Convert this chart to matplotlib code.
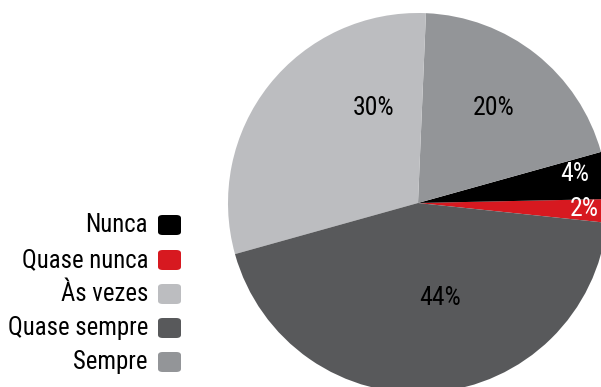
import matplotlib.pyplot as plt
from matplotlib.patches import FancyBboxPatch

# survey answers and their shares (%)
categories = ['Nunca', 'Quase nunca', 'Às vezes', 'Quase sempre', 'Sempre']
shares = [4, 2, 30, 44, 20]
colors = ['#000000', '#d71920', '#bcbdc0', '#58595b', '#939598']
label_colors = ['white', 'white', 'black', 'black', 'black']

# wedges are laid out counter-clockwise in this order, starting at the right
wedge_order = [1, 0, 4, 2, 3]

# where each percentage sits, in pie-radius units from the centre
label_pos = {
    'Nunca': (0.826, 0.150),
    'Quase nunca': (0.874, -0.030),
    'Às vezes': (-0.232, 0.500),
    'Quase sempre': (0.116, -0.500),
    'Sempre': (0.400, 0.500),
}

plt.rcParams['font.family'] = ['Roboto Condensed', 'DejaVu Sans']

W, H = 601, 387
R = 190            # pie radius in px
cx, cy = 418, 203  # pie centre in px (from top-left)

fig = plt.figure(figsize=(W / 100, H / 100), dpi=100)
ax = fig.add_axes([0, 0, 1, 1])

ax.pie([shares[i] for i in wedge_order],
       colors=[colors[i] for i in wedge_order],
       startangle=-6, counterclock=True, radius=1,
       wedgeprops=dict(linewidth=0))
ax.set_xlim(-cx / R, (W - cx) / R)
ax.set_ylim(-(H - cy) / R, cy / R)
ax.axis('off')

for name, val, tc in zip(categories, shares, label_colors):
    x, y = label_pos[name]
    ax.text(x, y, f'{val}%', ha='center', va='center',
            fontsize=18.5, color=tc)

# legend: right-aligned text with a rounded swatch on its right
row_y = [225, 260, 294, 328, 362]
for name, col, y in zip(categories, colors, row_y):
    fig.text(148 / W, 1 - y / H, name, ha='right', va='center', fontsize=17.8)
    sw = FancyBboxPatch((158 / W, 1 - (y + 10) / H), 23 / W, 20 / H,
                        boxstyle='round,pad=0,rounding_size=0.008',
                        transform=fig.transFigure, facecolor=col,
                        edgecolor='none')
    fig.patches.append(sw)

fig.savefig('out.png', dpi=100)
